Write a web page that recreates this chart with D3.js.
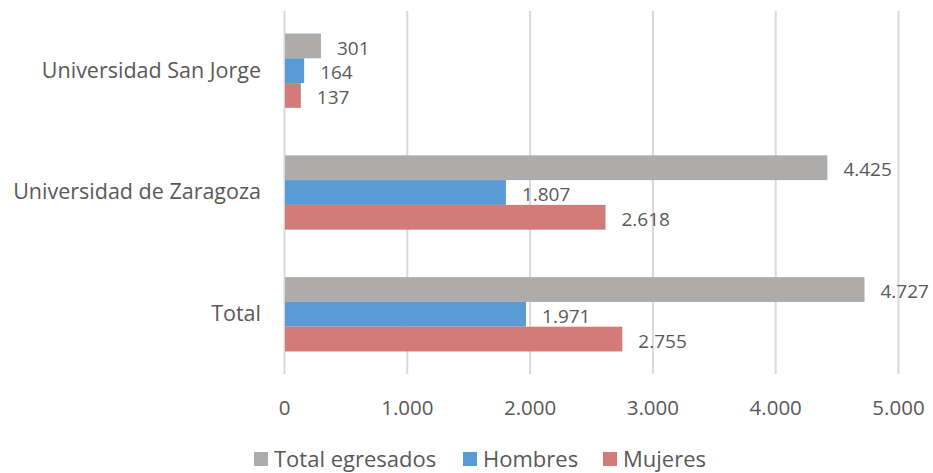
<!DOCTYPE html>
<html>
<head>
<meta charset="utf-8">
<script src="https://cdn.jsdelivr.net/npm/d3@7"></script>
<style>
  body { margin: 0; background: #fff; }
  text { fill: #595959; }
</style>
</head>
<body>
<div id="wrapper"></div>
<script>
const categories = ["Universidad San Jorge", "Universidad de Zaragoza", "Total"]
const seriesNames = ["Total egresados", "Hombres", "Mujeres"]
const totalEgresados = [301, 4425, 4727]
const hombres = [164, 1807, 1971]
const mujeres = [137, 2618, 2755]
const xTicks = [0, 1000, 2000, 3000, 4000, 5000]
const colors = ["#AEABAB", "#5B9BD5", "#D27B79"]

function drawBarChart() {
  const series = [totalEgresados, hombres, mujeres]
  const data = []
  categories.forEach((c, i) => {
    series.forEach((s, j) => data.push({ cat: c, name: seriesNames[j], value: s[i], idx: j }))
  })

  const locale = d3.formatLocale({ decimal: ",", thousands: ".", grouping: [3], currency: ["", " €"] })
  const fmt = locale.format(",d")

  let dms = {
    width: 933,
    height: 473,
    margins: { top: 11, right: 35, bottom: 99, left: 284 }
  }
  dms.boundedWidth = dms.width - dms.margins.left - dms.margins.right
  dms.boundedHeight = dms.height - dms.margins.top - dms.margins.bottom

  const wrapper = d3.select("#wrapper")
    .append("svg")
    .attr("width", dms.width)
    .attr("height", dms.height)
    .style("font-family", "'Open Sans', sans-serif")

  const bounds = wrapper.append("g")
    .attr("transform", `translate(${dms.margins.left},${dms.margins.top})`)

  const xScale = d3.scaleLinear()
    .domain([0, 5000])
    .range([0, 614])

  const yScale = d3.scaleBand()
    .domain(categories)
    .range([0, dms.boundedHeight])
    .paddingInner(0.39)
    .paddingOuter(0.185)

  const subScale = d3.scaleBand()
    .domain(d3.range(seriesNames.length))
    .range([0, yScale.bandwidth()])

  // gridlines
  bounds.append("g")
    .selectAll("line")
    .data(xTicks)
    .join("line")
    .attr("x1", d => xScale(d) + 0.5)
    .attr("x2", d => xScale(d) + 0.5)
    .attr("y1", 0)
    .attr("y2", dms.boundedHeight)
    .attr("stroke", "#d9d9d9")
    .attr("stroke-width", 2)

  const bars = bounds.append("g")
    .selectAll("rect")
    .data(data)
    .join("rect")
    .attr("x", xScale(0) + 1)
    .attr("y", d => yScale(d.cat) + subScale(d.idx))
    .attr("width", d => xScale(d.value) - 1)
    .attr("height", subScale.bandwidth())
    .attr("fill", d => colors[d.idx])

  bounds.append("g")
    .selectAll("text")
    .data(data)
    .join("text")
    .attr("x", d => xScale(d.value) + 16)
    .attr("y", d => yScale(d.cat) + subScale(d.idx) + subScale.bandwidth() / 2 + 2)
    .attr("dy", "0.35em")
    .style("font-size", "19px")
    .text(d => fmt(d.value))

  // category labels
  const yAxisGenerator = d3.axisLeft(yScale).tickSize(0).tickPadding(23)
  const yAxis = bounds.append("g").call(yAxisGenerator)
  yAxis.select(".domain").remove()
  yAxis.selectAll("text")
    .style("font-size", "21.5px")
    .style("font-family", "'Open Sans', sans-serif")
    .attr("fill", "#595959")

  const xAxisGenerator = d3.axisBottom(xScale)
    .tickValues(xTicks)
    .tickFormat(fmt)
    .tickSize(0)
    .tickPadding(26)
  const xAxis = bounds.append("g")
    .call(xAxisGenerator)
    .attr("transform", `translate(0,${dms.boundedHeight})`)
  xAxis.select(".domain").remove()
  xAxis.selectAll("text")
    .style("font-size", "20.5px")
    .style("font-family", "'Open Sans', sans-serif")
    .attr("fill", "#595959")

  // legend
  const legendX = [254, 463, 603]
  const legend = wrapper.append("g")
    .selectAll("g")
    .data(seriesNames)
    .join("g")
    .attr("transform", (d, i) => `translate(${legendX[i]},459)`)
  legend.append("rect")
    .attr("x", 0)
    .attr("y", -7)
    .attr("width", 14)
    .attr("height", 14)
    .attr("fill", (d, i) => colors[i])
  legend.append("text")
    .attr("x", 20)
    .attr("dy", "0.35em")
    .style("font-size", "22px")
    .text(d => d)
}

drawBarChart()
</script>
</body>
</html>
